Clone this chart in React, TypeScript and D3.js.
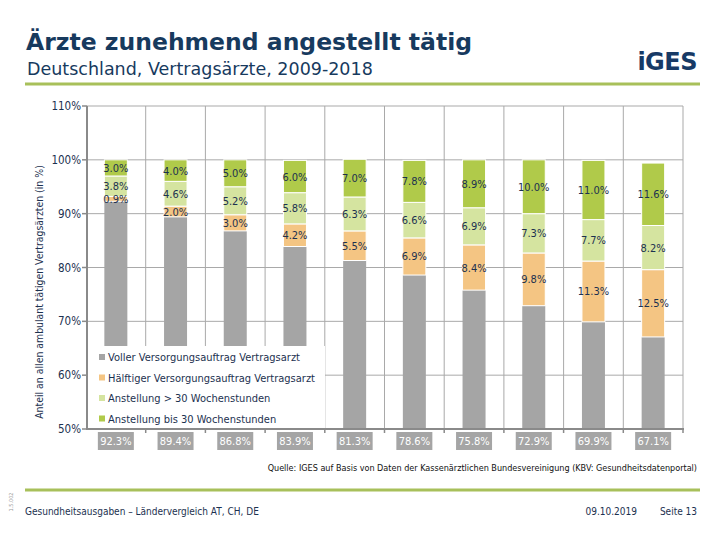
import React from "react";
import * as d3 from "d3";

const years = ["2009", "2010", "2011", "2012", "2013", "2014", "2015", "2016", "2017", "2018"];
const seriesNames = [
  "Voller Versorgungsauftrag Vertragsarzt",
  "Hälftiger Versorgungsauftrag Vertragsarzt",
  "Anstellung > 30 Wochenstunden",
  "Anstellung bis 30 Wochenstunden",
];
const voll = [92.3, 89.4, 86.8, 83.9, 81.3, 78.6, 75.8, 72.9, 69.9, 67.1];
const haelftig = [0.9, 2.0, 3.0, 4.2, 5.5, 6.9, 8.4, 9.8, 11.3, 12.5];
const anstUeber30 = [3.8, 4.6, 5.2, 5.8, 6.3, 6.6, 6.9, 7.3, 7.7, 8.2];
const anstBis30 = [3.0, 4.0, 5.0, 6.0, 7.0, 7.8, 8.9, 10.0, 11.0, 11.6];
const yTicks = [50, 60, 70, 80, 90, 100, 110];
const colors = ["#a5a5a5", "#f4c583", "#d5e4a0", "#b0ca4a"];

const NAVY = "#1c3150";
const FONT = "'DejaVu Sans Condensed', 'DejaVu Sans', sans-serif";
const FONT_WIDE = "'DejaVu Sans', sans-serif";

export default function App() {
  const W = 720, H = 540;
  const x = d3.scaleBand<string>().domain(years).range([86, 683]).paddingInner(0).paddingOuter(0);
  const y = d3.scaleLinear().domain([50, 110]).range([429, 106]);
  const bw = 23;
  const seriesVals = [voll, haelftig, anstUeber30, anstBis30];
  const rows = years.map((yr, i) => ({ year: yr, s0: voll[i], s1: haelftig[i], s2: anstUeber30[i], s3: anstBis30[i] }));
  const stack = d3.stack<any>().keys(["s0", "s1", "s2", "s3"])(rows);

  const gridColor = "#a9a9a9";
  const axisColor = "#8a8a8a";

  return (
    <svg width={W} height={H} style={{ position: "absolute", left: 0, top: 0, background: "#fff" }} fontFamily={FONT}>
      <rect x={0} y={0} width={W} height={H} fill="#fff" />
      {/* Header */}
      <text x={26} y={50} fontSize={23.5} fontWeight="bold" fill="#173a5e" fontFamily={FONT_WIDE}>Ärzte zunehmend angestellt tätig</text>
      <text x={27} y={75} fontSize={17.5} fill="#173a5e" fontFamily={FONT_WIDE}>Deutschland, Vertragsärzte, 2009-2018</text>
      <text x={697} y={70} fontSize={24} fontWeight="bold" fill="#173a66" textAnchor="end" fontFamily={FONT_WIDE} letterSpacing={-0.5}>iGES</text>
      <line x1={25} x2={700} y1={84} y2={84} stroke="#a8c05a" strokeWidth={3} />

      {/* Grid */}
      {yTicks.filter(t => t > 50).map(t => (
        <line key={"h" + t} x1={87} x2={683} y1={y(t)} y2={y(t)} stroke={gridColor} strokeWidth={1} />
      ))}
      {years.map((yr) => (
        <line key={"v" + yr} x1={(x(yr) as number) + x.bandwidth()} x2={(x(yr) as number) + x.bandwidth()} y1={y(110)} y2={y(50)} stroke={gridColor} strokeWidth={1} />
      ))}

      {/* Bars */}
      {stack.map((layer, si) => (
        <g key={"l" + si}>
          {layer.map((d, i) => {
            const x0 = (x(years[i]) as number) + (x.bandwidth() - bw) / 2;
            const lo = Math.max(d[0], 50);
            return (
              <rect key={i} x={x0} y={y(d[1])} width={bw} height={y(lo) - y(d[1])} fill={colors[si]} stroke="#fff" strokeWidth={si === 0 ? 0 : 1} />
            );
          })}
        </g>
      ))}
      {/* Segment labels */}
      {stack.slice(1).map((layer, li) => (
        <g key={"t" + li}>
          {layer.map((d, i) => (
            <text key={i} x={(x(years[i]) as number) + x.bandwidth() / 2} y={y((d[0] + d[1]) / 2) + 4} fontSize={11} fill={NAVY} textAnchor="middle">
              {seriesVals[li + 1][i].toFixed(1)}%
            </text>
          ))}
        </g>
      ))}

      {/* Legend */}
      <rect x={87} y={346} width={238} height={82} fill="#fff" />
      {seriesNames.map((n, i) => (
        <g key={"lg" + i}>
          <rect x={99} y={354 + i * 20.5} width={6} height={6} fill={colors[i]} />
          <text x={108} y={361 + i * 20.5} fontSize={11} fill={NAVY}>{n}</text>
        </g>
      ))}

      {/* Axes */}
      <line x1={87} x2={87} y1={y(110)} y2={y(50)} stroke={axisColor} strokeWidth={2} />
      {yTicks.map(t => (
        <g key={"yt" + t}>
          <line x1={82} x2={87} y1={y(t)} y2={y(t)} stroke={axisColor} strokeWidth={1.5} />
          <text x={81} y={y(t) + 4} fontSize={11.5} fill={NAVY} textAnchor="end">{t}%</text>
        </g>
      ))}
      <line x1={86} x2={684} y1={y(50)} y2={y(50)} stroke={axisColor} strokeWidth={2} />
      {years.map((yr) => (
        <line key={"bt" + yr} x1={(x(yr) as number) + x.bandwidth()} x2={(x(yr) as number) + x.bandwidth()} y1={y(50)} y2={y(50) + 4} stroke={axisColor} strokeWidth={1.5} />
      ))}
      {/* Bottom value boxes */}
      {years.map((yr, i) => {
        const cx = (x(yr) as number) + x.bandwidth() / 2;
        return (
          <g key={"bv" + yr}>
            <rect x={cx - 18} y={432} width={36} height={18} fill="#a5a5a5" />
            <text x={cx} y={445} fontSize={11} fill="#fff" textAnchor="middle">{voll[i].toFixed(1)}%</text>
          </g>
        );
      })}

      {/* Y axis title */}
      <text transform={`translate(43,292) rotate(-90)`} fontSize={10.4} fill={NAVY} textAnchor="middle">
        Anteil an allen ambulant tätigen Vertragsärzten (in %)
      </text>

      {/* Footer */}
      <text x={697} y={471} fontSize={9} fill="#111" textAnchor="end">Quelle: IGES auf Basis von Daten der Kassenärztlichen Bundesvereinigung (KBV: Gesundheitsdatenportal)</text>
      <line x1={25} x2={700} y1={490} y2={490} stroke="#a8c05a" strokeWidth={3} />
      <text x={25} y={515} fontSize={10} fill={NAVY}>Gesundheitsausgaben – Ländervergleich AT, CH, DE</text>
      <text x={637} y={515} fontSize={10} fill={NAVY} textAnchor="end">09.10.2019</text>
      <text x={697} y={515} fontSize={10} fill={NAVY} textAnchor="end">Seite 13</text>
      <text transform="translate(13,502) rotate(-90)" fontSize={5.5} fill="#999" textAnchor="middle">1.5.002</text>
    </svg>
  );
}
